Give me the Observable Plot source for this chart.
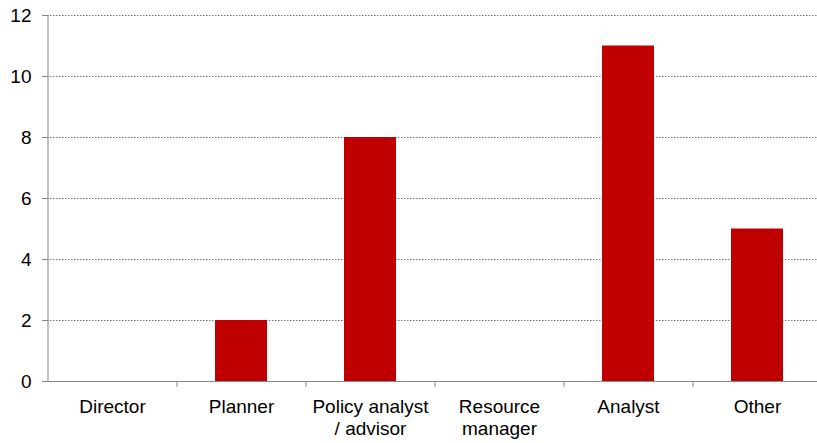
<!DOCTYPE html>
<html>
<head>
<meta charset="utf-8">
<script src="https://cdn.jsdelivr.net/npm/d3@7"></script>
<script src="https://cdn.jsdelivr.net/npm/@observablehq/plot@0.6"></script>
<style>
  html, body { margin: 0; padding: 0; background: #fff; }
  svg { font-family: "Liberation Sans", Arial, sans-serif; }
</style>
</head>
<body>
<div id="chart"></div>
<script>
const categories = ["Director", "Planner", "Policy analyst\n/ advisor", "Resource\nmanager", "Analyst", "Other"];
const values = [0, 2, 8, 0, 11, 5];
const yTicks = [0, 2, 4, 6, 8, 10, 12];

const data = categories.map((c, i) => ({category: c, value: values[i]}));
const xRange = [47.5, 821.5];
const step = (xRange[1] - xRange[0]) / categories.length;

const chart = Plot.plot({
  width: 817,
  height: 443,
  marginTop: 15,
  marginBottom: 62,
  marginLeft: 47,
  marginRight: 0,
  style: {fontFamily: '"Liberation Sans", Arial, sans-serif', fontSize: "16px", color: "#000", background: "#fff"},
  x: {domain: categories, range: xRange, paddingInner: 0.6, paddingOuter: 0.3},
  y: {domain: [0, 12], range: [381, 15]},
  marks: [
    Plot.gridY(yTicks.slice(1), {stroke: "#777", strokeOpacity: 1, strokeDasharray: "1.5,1.5", strokeWidth: 1}),
    Plot.barY(data, {x: "category", y: "value", fill: "#c00000"}),
    Plot.axisY(yTicks, {tickSize: 5, tickPadding: 11, stroke: "#888", fontSize: 19, fill: "#000", label: null}),
    Plot.ruleX([0], {x: () => categories[0], dx: -step / 2, y1: 0, y2: 12, stroke: "#888"}),
    Plot.ruleY([0], {stroke: "#888"}),
    Plot.axisX(categories.slice(1), {tickSize: 6, dx: -step / 2, tickFormat: () => "", stroke: "#888", label: null}),
    Plot.axisX({tickSize: 0, tickPadding: 16, fontSize: 19, fill: "#000", lineHeight: 1.16, label: null})
  ]
});
document.getElementById("chart").appendChild(chart);
</script>
</body>
</html>
